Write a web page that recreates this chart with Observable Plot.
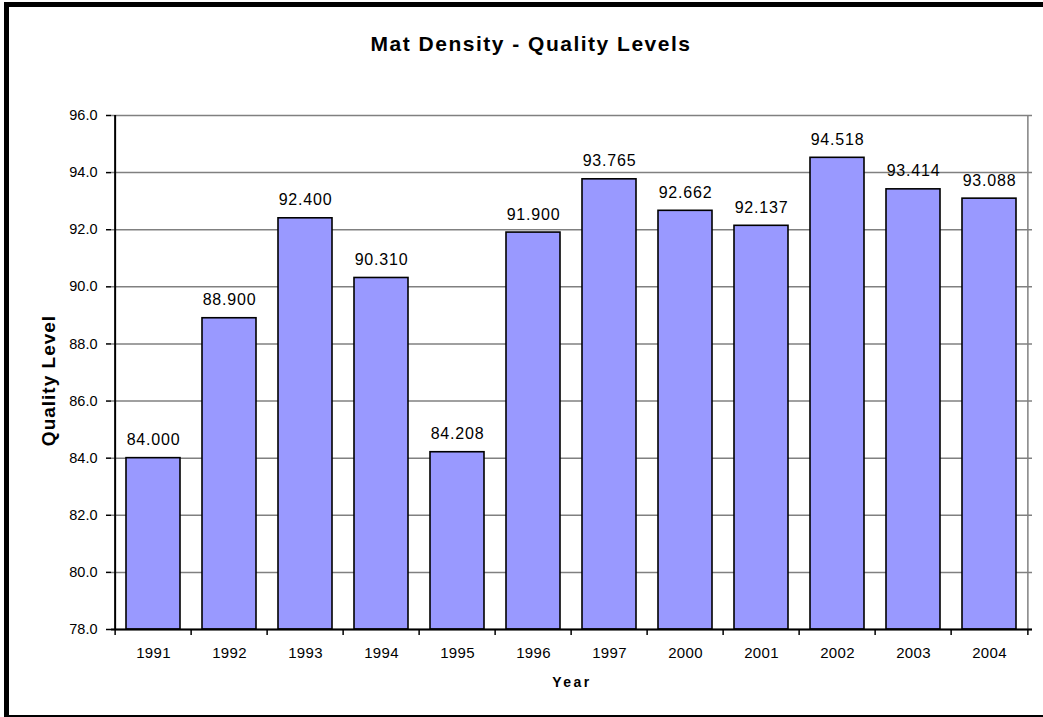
<!DOCTYPE html>
<html>
<head>
<meta charset="utf-8">
<script src="https://cdn.jsdelivr.net/npm/d3@7"></script>
<script src="https://cdn.jsdelivr.net/npm/@observablehq/plot@0.6"></script>
<style>
  html, body { margin: 0; padding: 0; background: #fff; overflow: hidden; }
  #wrap { position: relative; width: 1043px; height: 717px; overflow: hidden; font-family: "Liberation Sans", Arial, sans-serif; }
  #border { position: absolute; left: 4px; top: 2px; width: 1100px; height: 718px; border: 5px solid #000; box-sizing: border-box; }
  #title { position: absolute; left: 0; width: 1062px; top: 32px; text-align: center; font-size: 21px; font-weight: bold; letter-spacing: 1.5px; color: #000; }
  #chart { position: absolute; left: 0; top: 0; }
</style>
</head>
<body>
<div id="wrap">
  <div id="chart"></div>
  <div id="border"></div>
  <div id="title">Mat Density - Quality Levels</div>
</div>
<script>
const years = ["1991","1992","1993","1994","1995","1996","1997","2000","2001","2002","2003","2004"];
const values = [84.000, 88.900, 92.400, 90.310, 84.208, 91.900, 93.765, 92.662, 92.137, 94.518, 93.414, 93.088];
const yTicks = [78, 80, 82, 84, 86, 88, 90, 92, 94, 96];
const yLabel = "Quality Level";
const xLabel = "Year";

const data = years.map((y, i) => ({year: y, value: values[i]}));

const W = 1043, H = 717;
const mL = 111, mR = 11, mT = 115, mB = 88;
const step = (W - mL - mR) / years.length;
const font = "Liberation Sans, Arial, sans-serif";

const chart = Plot.plot({
  width: W,
  height: H,
  marginLeft: mL,
  marginRight: mR,
  marginTop: mT,
  marginBottom: mB,
  style: {fontFamily: font, background: "transparent", color: "#000"},
  x: {domain: years, paddingInner: 0.284, paddingOuter: 0.142, axis: null},
  y: {domain: [78, 96], axis: null},
  marks: [
    Plot.ruleY(yTicks, {stroke: "#808080", strokeWidth: 1.5}),
    Plot.ruleX([years[years.length - 1]], {dx: step / 2, stroke: "#808080", strokeWidth: 1.5}),
    Plot.barY(data, {x: "year", y1: 78, y2: "value", fill: "#9999ff", stroke: "#000", strokeWidth: 1.6}),
    Plot.ruleX([years[0]], {dx: -step / 2, stroke: "#000", strokeWidth: 2}),
    Plot.ruleY([78], {stroke: "#000", strokeWidth: 2}),
    Plot.axisY(yTicks, {tickSize: 5, tickPadding: 9, tickFormat: d => d.toFixed(1), fontSize: 14.5, stroke: "#000", strokeWidth: 1.5, label: null}),
    Plot.axisX(years, {tickSize: 6, dx: -step / 2, tickFormat: () => "", stroke: "#000", strokeWidth: 1.5, label: null}),
    Plot.axisX([years[years.length - 1]], {tickSize: 6, dx: step / 2, tickFormat: () => "", stroke: "#000", strokeWidth: 1.5, label: null}),
    Plot.axisX(years, {tickSize: 0, tickPadding: 18, fontSize: 15, label: null}),
    Plot.text(data, {x: "year", y: "value", text: d => d.value.toFixed(3), lineAnchor: "bottom", dy: -13, fontSize: 16, fill: "#000"}),
    Plot.text([yLabel], {frameAnchor: "left", textAnchor: "middle", rotate: -90, dx: -63, dy: 8, fontSize: 19, fontWeight: "bold", fill: "#000"}),
    Plot.text([xLabel], {frameAnchor: "bottom", textAnchor: "middle", lineAnchor: "middle", dy: 53, fontSize: 14, fontWeight: "bold", fill: "#000"})
  ]
});
document.getElementById("chart").appendChild(chart);
const sel = d3.select(chart);
// make sure the axis tick labels get their size
sel.selectAll('g[aria-label="y-axis tick label"]').attr("font-size", 14.5).selectAll("text").style("font-size", "14.5px");
sel.selectAll('g[aria-label="x-axis tick label"]').attr("font-size", 15).selectAll("text").style("font-size", "15px").style("letter-spacing", "0.3px");
// letter spacing adjustments for text marks
sel.selectAll("text").filter(function() { return this.textContent === xLabel; }).style("letter-spacing", "2.5px");
sel.selectAll("text").filter(function() { return this.textContent === yLabel; }).style("letter-spacing", "1px");
sel.selectAll("text").filter(function() { return /^\d+\.\d{3}$/.test(this.textContent); }).style("letter-spacing", "0.8px");
</script>
</body>
</html>
